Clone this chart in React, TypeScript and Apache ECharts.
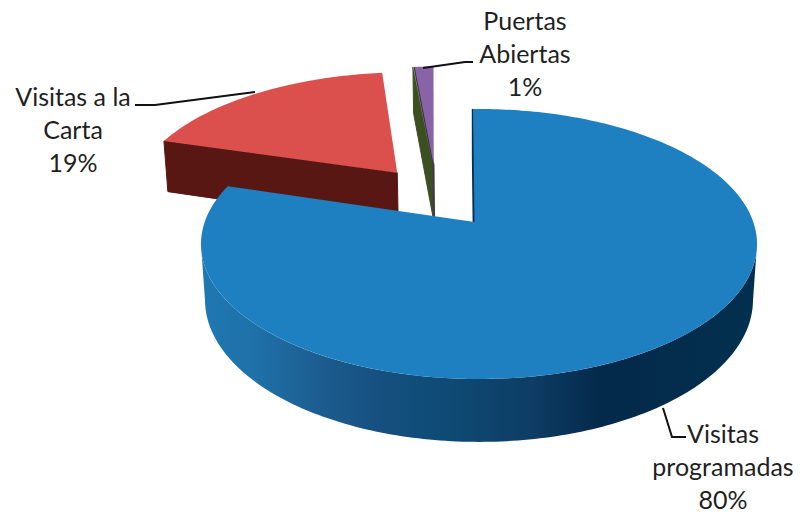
import React, { useEffect, useRef } from "react";
import * as echarts from "echarts";

const sliceNames = ["Visitas\nprogramadas", "Visitas a la\nCarta", "", "Puertas\nAbiertas"];
const sliceValues = [80, 18.6, 0.05, 1.35];
const topColors = ["#1e80c0", "#db504d", "#8aa84f", "#8864a6"];
const wallColors = ["#02304f", "#591713", "#3b4f20", "#3f2a5e"];

// exploded offset of each slice on the pie's plane, unit = radius
const explodeU = [0, -0.3, -0.165, -0.16];
const explodeV = [0, -0.4, -0.467, -0.467];
const rimShiftX = [4.5, 0, 0, 0];
const wallStroke = [2.5, 1, 1, 1.5];
const labelX = [723, 73, 0, 525];
const labelY = [466, 129, 0, 53];
const leaders: number[][][] = [
  [[663, 408], [672, 437], [686, 437]],
  [[255, 92], [155, 105], [135, 105]],
  [],
  [[423, 68], [465, 62], [473, 62]],
];

const START_ANGLE = -1.45;
const X0 = 474.5, Y0 = 222, B = 274.3, A = 131.4, K = -0.163, M = 0.0143, D = 55.8;
// angles (clockwise from the far point) where the pie's outline is widest
const WALL_FROM = 99.4, WALL_TO = 260.6;

const total = sliceValues.reduce((a, b) => a + b, 0);
const startAngles: number[] = [];
sliceValues.reduce((acc, v, i) => {
  startAngles[i] = acc;
  return acc + (v / total) * 360;
}, START_ANGLE);

function project(u: number, v: number, bottom: boolean, shiftX: number): number[] {
  const w = 1 + K * v + (bottom ? M : 0);
  return [X0 + shiftX + (B * u) / w, Y0 + (A * v + (bottom ? D : 0)) / w];
}

function rimPoint(i: number, deg: number, bottom: boolean): number[] {
  const t = (deg * Math.PI) / 180;
  return project(Math.sin(t) + explodeU[i], -Math.cos(t) + explodeV[i], bottom, rimShiftX[i]);
}

function arc(i: number, from: number, to: number, bottom: boolean): number[][] {
  const n = Math.max(2, Math.ceil(Math.abs(to - from)));
  const pts: number[][] = [];
  for (let s = 0; s <= n; s++) pts.push(rimPoint(i, from + ((to - from) * s) / n, bottom));
  return pts;
}

const rimGradient = {
  type: "linear", x: 0, y: 0, x2: 1, y2: 0,
  colorStops: [
    { offset: 0, color: "#1f78b2" },
    { offset: 0.1, color: "#1f70a8" },
    { offset: 0.22, color: "#1c5c8e" },
    { offset: 0.32, color: "#155080" },
    { offset: 0.45, color: "#0e4a74" },
    { offset: 0.6, color: "#0e3c64" },
    { offset: 0.72, color: "#04294a" },
    { offset: 1, color: "#03304f" },
  ],
};

function renderSlice(params: any, api: any) {
  const i = api.value(0) as number;
  const from = startAngles[i];
  const to = from + (sliceValues[i] / total) * 360;
  const apexTop = project(explodeU[i], explodeV[i], false, 0);
  const apexBottom = project(explodeU[i], explodeV[i], true, 0);
  const children: any[] = [];

  // cut face at the slice's start edge
  children.push({
    type: "polygon",
    shape: { points: [apexTop, rimPoint(i, from, false), rimPoint(i, from, true), apexBottom] },
    style: { fill: wallColors[i], stroke: wallColors[i], lineWidth: wallStroke[i] },
  });

  // outer wall on the near side
  if (from < WALL_FROM && to > WALL_TO) {
    children.push({
      type: "polygon",
      shape: { points: [...arc(i, WALL_FROM, WALL_TO, false), ...arc(i, WALL_TO, WALL_FROM, true)] },
      style: { fill: rimGradient },
    });
  }

  // top face
  children.push({
    type: "polygon",
    shape: { points: [apexTop, ...arc(i, from, to, false)] },
    style: { fill: topColors[i] },
  });

  if (leaders[i].length) {
    children.push({
      type: "polyline",
      shape: { points: leaders[i] },
      style: { fill: "none", stroke: "#111111", lineWidth: 2 },
    });
    const pct = Math.round((sliceValues[i] / total) * 100);
    children.push({
      type: "text",
      style: {
        text: `${sliceNames[i]}\n${pct}%`,
        x: labelX[i],
        y: labelY[i],
        align: "center",
        verticalAlign: "middle",
        fontFamily: "Lato",
        fontSize: 25,
        lineHeight: 33,
        fill: "#1f1f1f",
      },
    });
  }
  return { type: "group", children };
}

export default function App() {
  const ref = useRef<HTMLDivElement>(null);
  useEffect(() => {
    const chart = echarts.init(ref.current!, undefined, { renderer: "svg" });
    chart.setOption({
      animation: false,
      backgroundColor: "#ffffff",
      series: [
        {
          type: "custom",
          coordinateSystem: "none",
          silent: true,
          renderItem: renderSlice,
          // painted back to front: the large near slice goes last
          data: sliceValues.map((_, i) => [sliceValues.length - 1 - i]),
        },
      ],
    });
    return () => chart.dispose();
  }, []);
  return (
    <div
      ref={ref}
      style={{ position: "absolute", left: 0, top: 0, width: 801, height: 513 }}
    />
  );
}
